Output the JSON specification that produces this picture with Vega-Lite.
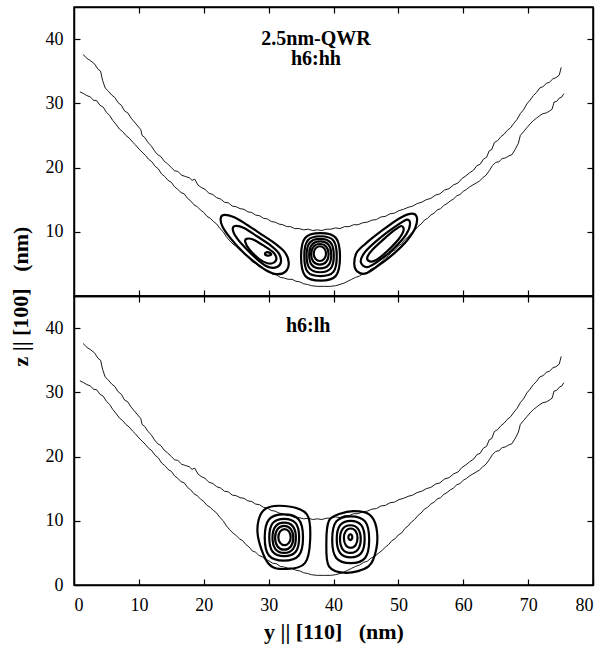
{
 "$schema": "https://vega.github.io/schema/vega-lite/v6.json",
 "padding": {"left": 8, "top": 5, "right": 8, "bottom": 5},
 "spacing": 0,
 "bounds": "flush",
 "background": "white",
 "config": {
  "view": {"stroke": "black", "strokeWidth": 1.5},
  "font": "Liberation Serif",
  "axis": {"grid": false, "domainColor": "black", "domainWidth": 1.5, "tickColor": "black", "tickSize": -6, "tickWidth": 1.2, "labelFont": "Liberation Serif", "labelFontSize": 18, "labelColor": "black", "labelPadding": 17, "titleFont": "Liberation Serif", "titleFontSize": 22, "titleFontWeight": "bold", "titleColor": "black", "titlePadding": 13}
 },
 "datasets": {
  "bnd": [
   {"curve":"u","x":1.4,"z":37.6},{"curve":"u","x":2.0,"z":37.0},{"curve":"u","x":2.6,"z":36.6},{"curve":"u","x":3.2,"z":36.1},{"curve":"u","x":3.7,"z":35.3},{"curve":"u","x":4.1,"z":35.0},{"curve":"u","x":4.4,"z":33.6},{"curve":"u","x":4.8,"z":32.4},{"curve":"u","x":5.3,"z":31.9},{"curve":"u","x":5.8,"z":31.3},{"curve":"u","x":6.3,"z":30.9},{"curve":"u","x":6.8,"z":30.1},{"curve":"u","x":7.3,"z":29.7},{"curve":"u","x":7.8,"z":28.8},{"curve":"u","x":8.3,"z":28.5},{"curve":"u","x":8.8,"z":27.7},{"curve":"u","x":9.3,"z":27.1},{"curve":"u","x":9.8,"z":26.5},{"curve":"u","x":10.3,"z":25.9},{"curve":"u","x":10.5,"z":25.0},{"curve":"u","x":10.9,"z":24.7},{"curve":"u","x":11.4,"z":23.9},{"curve":"u","x":11.9,"z":23.4},{"curve":"u","x":12.4,"z":22.6},{"curve":"u","x":12.9,"z":22.0},{"curve":"u","x":13.4,"z":21.7},{"curve":"u","x":13.9,"z":21.0},{"curve":"u","x":14.4,"z":20.6},{"curve":"u","x":15.0,"z":20.0},{"curve":"u","x":15.5,"z":19.5},{"curve":"u","x":16.0,"z":19.4},{"curve":"u","x":16.6,"z":18.8},{"curve":"u","x":17.2,"z":18.6},{"curve":"u","x":17.8,"z":18.4},{"curve":"u","x":18.2,"z":18.0},{"curve":"u","x":18.6,"z":18.2},{"curve":"u","x":19.1,"z":17.3},{"curve":"u","x":19.6,"z":16.9},{"curve":"u","x":20.2,"z":16.6},{"curve":"u","x":20.8,"z":16.0},{"curve":"u","x":21.4,"z":15.8},{"curve":"u","x":22.0,"z":15.3},{"curve":"u","x":22.6,"z":15.1},{"curve":"u","x":23.2,"z":14.6},{"curve":"u","x":23.8,"z":14.5},{"curve":"u","x":24.4,"z":14.0},{"curve":"u","x":25.0,"z":13.9},{"curve":"u","x":25.6,"z":13.6},{"curve":"u","x":26.2,"z":13.5},{"curve":"u","x":26.8,"z":13.1},{"curve":"u","x":27.4,"z":13.0},{"curve":"u","x":28.0,"z":12.6},{"curve":"u","x":28.6,"z":12.5},{"curve":"u","x":29.2,"z":12.1},{"curve":"u","x":29.8,"z":12.0},{"curve":"u","x":30.4,"z":11.6},{"curve":"u","x":31.0,"z":11.5},{"curve":"u","x":31.6,"z":11.2},{"curve":"u","x":32.2,"z":11.1},{"curve":"u","x":32.8,"z":10.8},{"curve":"u","x":33.4,"z":10.8},{"curve":"u","x":34.0,"z":10.5},{"curve":"u","x":34.7,"z":10.5},{"curve":"u","x":35.4,"z":10.3},{"curve":"u","x":36.1,"z":10.4},{"curve":"u","x":36.8,"z":10.2},{"curve":"u","x":37.5,"z":10.3},{"curve":"u","x":38.2,"z":10.2},{"curve":"u","x":38.9,"z":10.4},{"curve":"u","x":39.6,"z":10.4},{"curve":"u","x":40.3,"z":10.6},{"curve":"u","x":41.0,"z":10.5},{"curve":"u","x":41.7,"z":10.8},{"curve":"u","x":42.4,"z":10.8},{"curve":"u","x":43.1,"z":11.1},{"curve":"u","x":43.8,"z":11.1},{"curve":"u","x":44.5,"z":11.4},{"curve":"u","x":45.2,"z":11.5},{"curve":"u","x":45.9,"z":11.8},{"curve":"u","x":46.6,"z":11.9},{"curve":"u","x":47.3,"z":12.3},{"curve":"u","x":48.0,"z":12.4},{"curve":"u","x":48.7,"z":12.8},{"curve":"u","x":49.4,"z":12.9},{"curve":"u","x":50.1,"z":13.3},{"curve":"u","x":50.8,"z":13.5},{"curve":"u","x":51.5,"z":13.8},{"curve":"u","x":52.2,"z":14.0},{"curve":"u","x":52.9,"z":14.4},{"curve":"u","x":53.6,"z":14.6},{"curve":"u","x":54.3,"z":15.0},{"curve":"u","x":55.0,"z":15.2},{"curve":"u","x":55.7,"z":15.7},{"curve":"u","x":56.4,"z":15.9},{"curve":"u","x":57.1,"z":16.5},{"curve":"u","x":57.8,"z":16.7},{"curve":"u","x":58.5,"z":17.3},{"curve":"u","x":59.2,"z":17.6},{"curve":"u","x":59.8,"z":18.3},{"curve":"u","x":60.4,"z":18.7},{"curve":"u","x":61.0,"z":19.2},{"curve":"u","x":61.6,"z":19.6},{"curve":"u","x":62.1,"z":20.3},{"curve":"u","x":62.6,"z":20.5},{"curve":"u","x":63.1,"z":21.3},{"curve":"u","x":63.6,"z":21.6},{"curve":"u","x":64.0,"z":22.6},{"curve":"u","x":64.4,"z":22.8},{"curve":"u","x":64.8,"z":23.9},{"curve":"u","x":65.3,"z":24.2},{"curve":"u","x":65.8,"z":24.8},{"curve":"u","x":66.3,"z":25.2},{"curve":"u","x":66.8,"z":25.8},{"curve":"u","x":67.3,"z":26.2},{"curve":"u","x":67.8,"z":26.9},{"curve":"u","x":68.3,"z":27.5},{"curve":"u","x":68.8,"z":28.4},{"curve":"u","x":69.3,"z":29.0},{"curve":"u","x":69.8,"z":29.9},{"curve":"u","x":70.3,"z":30.5},{"curve":"u","x":70.8,"z":31.2},{"curve":"u","x":71.3,"z":31.7},{"curve":"u","x":71.8,"z":32.4},{"curve":"u","x":72.3,"z":32.6},{"curve":"u","x":72.8,"z":33.1},{"curve":"u","x":73.3,"z":33.3},{"curve":"u","x":73.8,"z":33.8},{"curve":"u","x":74.3,"z":34.0},{"curve":"u","x":74.8,"z":34.4},{"curve":"u","x":75.1,"z":35.6},
   {"curve":"l","x":0.9,"z":31.8},{"curve":"l","x":1.5,"z":31.5},{"curve":"l","x":2.0,"z":31.2},{"curve":"l","x":2.5,"z":31.0},{"curve":"l","x":3.0,"z":30.5},{"curve":"l","x":3.5,"z":30.4},{"curve":"l","x":4.0,"z":29.7},{"curve":"l","x":4.5,"z":29.4},{"curve":"l","x":5.0,"z":28.6},{"curve":"l","x":5.5,"z":28.1},{"curve":"l","x":6.0,"z":27.3},{"curve":"l","x":6.5,"z":26.7},{"curve":"l","x":7.0,"z":26.0},{"curve":"l","x":7.5,"z":25.6},{"curve":"l","x":8.0,"z":25.0},{"curve":"l","x":8.5,"z":24.6},{"curve":"l","x":9.0,"z":24.0},{"curve":"l","x":9.5,"z":23.5},{"curve":"l","x":10.0,"z":22.9},{"curve":"l","x":10.5,"z":22.4},{"curve":"l","x":11.0,"z":21.9},{"curve":"l","x":11.5,"z":21.3},{"curve":"l","x":12.0,"z":20.9},{"curve":"l","x":12.5,"z":20.2},{"curve":"l","x":13.0,"z":19.8},{"curve":"l","x":13.5,"z":19.0},{"curve":"l","x":14.0,"z":18.6},{"curve":"l","x":14.5,"z":18.0},{"curve":"l","x":15.0,"z":17.7},{"curve":"l","x":15.5,"z":17.0},{"curve":"l","x":16.0,"z":16.6},{"curve":"l","x":16.5,"z":16.1},{"curve":"l","x":17.0,"z":15.9},{"curve":"l","x":17.5,"z":15.2},{"curve":"l","x":18.0,"z":14.8},{"curve":"l","x":18.5,"z":14.2},{"curve":"l","x":19.0,"z":13.9},{"curve":"l","x":19.5,"z":13.4},{"curve":"l","x":20.0,"z":13.0},{"curve":"l","x":20.5,"z":12.4},{"curve":"l","x":21.0,"z":12.1},{"curve":"l","x":21.5,"z":11.6},{"curve":"l","x":22.0,"z":11.2},{"curve":"l","x":22.5,"z":10.5},{"curve":"l","x":23.0,"z":10.0},{"curve":"l","x":23.5,"z":9.2},{"curve":"l","x":24.0,"z":8.6},{"curve":"l","x":24.5,"z":8.1},{"curve":"l","x":25.0,"z":7.7},{"curve":"l","x":25.5,"z":7.2},{"curve":"l","x":26.0,"z":6.9},{"curve":"l","x":26.5,"z":6.3},{"curve":"l","x":27.0,"z":5.9},{"curve":"l","x":27.5,"z":5.3},{"curve":"l","x":28.0,"z":5.1},{"curve":"l","x":28.5,"z":4.6},{"curve":"l","x":29.0,"z":4.4},{"curve":"l","x":29.5,"z":4.0},{"curve":"l","x":30.0,"z":3.8},{"curve":"l","x":30.6,"z":3.4},{"curve":"l","x":31.2,"z":3.3},{"curve":"l","x":31.8,"z":2.9},{"curve":"l","x":32.4,"z":2.8},{"curve":"l","x":33.0,"z":2.6},{"curve":"l","x":33.6,"z":2.6},{"curve":"l","x":34.2,"z":2.3},{"curve":"l","x":34.8,"z":2.2},{"curve":"l","x":35.4,"z":1.9},{"curve":"l","x":36.0,"z":1.8},{"curve":"l","x":36.6,"z":1.6},{"curve":"l","x":37.5,"z":1.5},{"curve":"l","x":38.5,"z":1.5},{"curve":"l","x":39.5,"z":1.5},{"curve":"l","x":40.3,"z":1.6},{"curve":"l","x":41.0,"z":1.8},{"curve":"l","x":41.6,"z":2.0},{"curve":"l","x":42.2,"z":2.3},{"curve":"l","x":42.8,"z":2.6},{"curve":"l","x":43.4,"z":2.9},{"curve":"l","x":44.0,"z":3.1},{"curve":"l","x":44.6,"z":3.5},{"curve":"l","x":45.2,"z":3.7},{"curve":"l","x":45.8,"z":4.2},{"curve":"l","x":46.4,"z":4.5},{"curve":"l","x":47.0,"z":5.0},{"curve":"l","x":47.5,"z":5.4},{"curve":"l","x":48.0,"z":5.9},{"curve":"l","x":48.5,"z":6.3},{"curve":"l","x":49.0,"z":6.9},{"curve":"l","x":49.5,"z":7.2},{"curve":"l","x":50.0,"z":7.8},{"curve":"l","x":50.5,"z":8.1},{"curve":"l","x":51.0,"z":8.8},{"curve":"l","x":51.5,"z":9.2},{"curve":"l","x":52.0,"z":9.8},{"curve":"l","x":52.5,"z":10.2},{"curve":"l","x":53.0,"z":10.8},{"curve":"l","x":53.5,"z":11.2},{"curve":"l","x":54.0,"z":11.8},{"curve":"l","x":54.5,"z":12.1},{"curve":"l","x":55.0,"z":12.6},{"curve":"l","x":55.5,"z":12.9},{"curve":"l","x":56.0,"z":13.4},{"curve":"l","x":56.5,"z":13.6},{"curve":"l","x":57.0,"z":14.1},{"curve":"l","x":57.5,"z":14.4},{"curve":"l","x":58.0,"z":14.8},{"curve":"l","x":58.5,"z":15.1},{"curve":"l","x":59.0,"z":15.6},{"curve":"l","x":59.5,"z":15.8},{"curve":"l","x":60.0,"z":16.3},{"curve":"l","x":60.5,"z":16.6},{"curve":"l","x":61.0,"z":17.0},{"curve":"l","x":61.5,"z":17.3},{"curve":"l","x":62.0,"z":17.6},{"curve":"l","x":62.5,"z":17.9},{"curve":"l","x":63.0,"z":18.4},{"curve":"l","x":63.5,"z":18.8},{"curve":"l","x":64.0,"z":19.5},{"curve":"l","x":64.5,"z":20.3},{"curve":"l","x":65.0,"z":20.8},{"curve":"l","x":65.5,"z":20.9},{"curve":"l","x":66.0,"z":21.4},{"curve":"l","x":66.5,"z":21.5},{"curve":"l","x":67.0,"z":21.8},{"curve":"l","x":67.5,"z":22.0},{"curve":"l","x":68.0,"z":22.8},{"curve":"l","x":68.5,"z":23.8},{"curve":"l","x":68.8,"z":25.0},{"curve":"l","x":69.3,"z":25.6},{"curve":"l","x":69.8,"z":26.2},{"curve":"l","x":70.3,"z":26.8},{"curve":"l","x":70.8,"z":27.3},{"curve":"l","x":71.3,"z":27.7},{"curve":"l","x":71.8,"z":28.1},{"curve":"l","x":72.3,"z":28.4},{"curve":"l","x":72.8,"z":28.5},{"curve":"l","x":73.3,"z":28.8},{"curve":"l","x":73.7,"z":29.1},{"curve":"l","x":74.0,"z":30.2},{"curve":"l","x":74.4,"z":30.3},{"curve":"l","x":74.8,"z":30.8},{"curve":"l","x":75.2,"z":31.0},{"curve":"l","x":75.5,"z":31.5}
  ],
  "hh": [
   {"c":"a1","o":1,"x":23.0,"z":12.6},{"c":"a1","o":2,"x":24.6,"z":12.3},{"c":"a1","o":3,"x":26.5,"z":11.2},{"c":"a1","o":4,"x":28.6,"z":9.8},{"c":"a1","o":5,"x":30.8,"z":8.3},{"c":"a1","o":6,"x":32.5,"z":6.8},{"c":"a1","o":7,"x":33.1,"z":5.2},{"c":"a1","o":8,"x":32.6,"z":3.8},{"c":"a1","o":9,"x":31.2,"z":3.4},{"c":"a1","o":10,"x":29.6,"z":4.0},{"c":"a1","o":11,"x":27.8,"z":5.3},{"c":"a1","o":12,"x":26.0,"z":6.9},{"c":"a1","o":13,"x":24.2,"z":8.9},{"c":"a1","o":14,"x":22.9,"z":10.8},{"c":"a1","o":15,"x":22.6,"z":12.0},
   {"c":"a2","o":1,"x":24.8,"z":10.9},{"c":"a2","o":2,"x":26.2,"z":10.6},{"c":"a2","o":3,"x":28.2,"z":9.3},{"c":"a2","o":4,"x":30.3,"z":7.9},{"c":"a2","o":5,"x":31.6,"z":6.6},{"c":"a2","o":6,"x":31.9,"z":5.3},{"c":"a2","o":7,"x":31.3,"z":4.5},{"c":"a2","o":8,"x":30.0,"z":4.5},{"c":"a2","o":9,"x":28.6,"z":5.4},{"c":"a2","o":10,"x":26.8,"z":7.1},{"c":"a2","o":11,"x":25.2,"z":8.9},{"c":"a2","o":12,"x":24.5,"z":10.2},
   {"c":"a3","o":1,"x":26.6,"z":8.9},{"c":"a3","o":2,"x":27.6,"z":8.8},{"c":"a3","o":3,"x":29.3,"z":7.8},{"c":"a3","o":4,"x":30.7,"z":6.8},{"c":"a3","o":5,"x":31.2,"z":5.9},{"c":"a3","o":6,"x":30.8,"z":5.2},{"c":"a3","o":7,"x":29.8,"z":5.1},{"c":"a3","o":8,"x":28.5,"z":5.8},{"c":"a3","o":9,"x":27.0,"z":7.3},{"c":"a3","o":10,"x":26.4,"z":8.4},
   {"c":"a4","o":1,"x":29.5,"z":6.7},{"c":"a4","o":2,"x":30.0,"z":6.8},{"c":"a4","o":3,"x":30.4,"z":6.5},{"c":"a4","o":4,"x":30.0,"z":6.3},{"c":"a4","o":5,"x":29.5,"z":6.4},
   {"c":"c1","o":1,"x":41.0,"z":6.1},{"c":"c1","o":2,"x":40.38,"z":9.04},{"c":"c1","o":3,"x":38.0,"z":9.8},{"c":"c1","o":4,"x":35.62,"z":9.04},{"c":"c1","o":5,"x":35.0,"z":6.1},{"c":"c1","o":6,"x":35.62,"z":3.16},{"c":"c1","o":7,"x":38.0,"z":2.4},{"c":"c1","o":8,"x":40.38,"z":3.16},
   {"c":"c2","o":1,"x":40.5,"z":6.2},{"c":"c2","o":2,"x":39.98,"z":8.65},{"c":"c2","o":3,"x":38.0,"z":9.3},{"c":"c2","o":4,"x":36.02,"z":8.65},{"c":"c2","o":5,"x":35.5,"z":6.2},{"c":"c2","o":6,"x":36.02,"z":3.75},{"c":"c2","o":7,"x":38.0,"z":3.1},{"c":"c2","o":8,"x":39.98,"z":3.75},
   {"c":"c3","o":1,"x":40.05,"z":6.3},{"c":"c3","o":2,"x":39.57,"z":8.3},{"c":"c3","o":3,"x":37.95,"z":8.9},{"c":"c3","o":4,"x":36.33,"z":8.3},{"c":"c3","o":5,"x":35.85,"z":6.3},{"c":"c3","o":6,"x":36.33,"z":4.3},{"c":"c3","o":7,"x":37.95,"z":3.7},{"c":"c3","o":8,"x":39.57,"z":4.3},
   {"c":"c4","o":1,"x":39.65,"z":6.4},{"c":"c4","o":2,"x":39.23,"z":7.98},{"c":"c4","o":3,"x":37.95,"z":8.5},{"c":"c4","o":4,"x":36.67,"z":7.98},{"c":"c4","o":5,"x":36.25,"z":6.4},{"c":"c4","o":6,"x":36.67,"z":4.82},{"c":"c4","o":7,"x":37.95,"z":4.3},{"c":"c4","o":8,"x":39.23,"z":4.82},
   {"c":"c5","o":1,"x":39.25,"z":6.5},{"c":"c5","o":2,"x":38.89,"z":7.67},{"c":"c5","o":3,"x":37.9,"z":8.1},{"c":"c5","o":4,"x":36.91,"z":7.67},{"c":"c5","o":5,"x":36.55,"z":6.5},{"c":"c5","o":6,"x":36.91,"z":5.33},{"c":"c5","o":7,"x":37.9,"z":4.9},{"c":"c5","o":8,"x":38.89,"z":5.33},
   {"c":"c6","o":1,"x":38.85,"z":6.6},{"c":"c6","o":2,"x":38.57,"z":7.42},{"c":"c6","o":3,"x":37.9,"z":7.75},{"c":"c6","o":4,"x":37.23,"z":7.42},{"c":"c6","o":5,"x":36.95,"z":6.6},{"c":"c6","o":6,"x":37.23,"z":5.78},{"c":"c6","o":7,"x":37.9,"z":5.45},{"c":"c6","o":8,"x":38.57,"z":5.78},
   {"c":"b1","o":1,"x":43.2,"z":5.0},{"c":"b1","o":2,"x":43.6,"z":6.8},{"c":"b1","o":3,"x":45.0,"z":8.2},{"c":"b1","o":4,"x":47.5,"z":10.2},{"c":"b1","o":5,"x":50.0,"z":12.0},{"c":"b1","o":6,"x":51.8,"z":12.8},{"c":"b1","o":7,"x":52.8,"z":12.4},{"c":"b1","o":8,"x":52.6,"z":10.6},{"c":"b1","o":9,"x":51.3,"z":8.6},{"c":"b1","o":10,"x":49.3,"z":6.6},{"c":"b1","o":11,"x":47.0,"z":4.8},{"c":"b1","o":12,"x":45.0,"z":3.5},{"c":"b1","o":13,"x":43.7,"z":3.8},
   {"c":"b2","o":1,"x":44.2,"z":5.3},{"c":"b2","o":2,"x":44.9,"z":6.9},{"c":"b2","o":3,"x":47.0,"z":8.9},{"c":"b2","o":4,"x":49.5,"z":10.8},{"c":"b2","o":5,"x":51.3,"z":11.9},{"c":"b2","o":6,"x":51.8,"z":11.2},{"c":"b2","o":7,"x":51.2,"z":9.6},{"c":"b2","o":8,"x":49.3,"z":7.4},{"c":"b2","o":9,"x":47.0,"z":5.5},{"c":"b2","o":10,"x":45.2,"z":4.5},
   {"c":"b3","o":1,"x":45.2,"z":6.0},{"c":"b3","o":2,"x":46.0,"z":7.2},{"c":"b3","o":3,"x":47.8,"z":8.9},{"c":"b3","o":4,"x":49.6,"z":10.4},{"c":"b3","o":5,"x":50.5,"z":10.9},{"c":"b3","o":6,"x":50.8,"z":10.2},{"c":"b3","o":7,"x":50.0,"z":8.8},{"c":"b3","o":8,"x":48.3,"z":7.0},{"c":"b3","o":9,"x":46.6,"z":5.6},{"c":"b3","o":10,"x":45.6,"z":5.4}
  ],
  "lh": [
   {"c":"L1","o":1,"x":36.4,"z":7.0},{"c":"L1","o":2,"x":35.9,"z":11.0},{"c":"L1","o":3,"x":32.5,"z":12.3},{"c":"L1","o":4,"x":29.2,"z":11.6},{"c":"L1","o":5,"x":28.3,"z":8.0},{"c":"L1","o":6,"x":30.0,"z":3.3},{"c":"L1","o":7,"x":32.8,"z":2.5},{"c":"L1","o":8,"x":35.6,"z":3.4},
   {"c":"L2","o":1,"x":35.3,"z":7.4},{"c":"L2","o":2,"x":34.65,"z":10.21},{"c":"L2","o":3,"x":32.35,"z":11.0},{"c":"L2","o":4,"x":30.05,"z":10.21},{"c":"L2","o":5,"x":29.4,"z":7.4},{"c":"L2","o":6,"x":30.05,"z":4.59},{"c":"L2","o":7,"x":32.35,"z":3.8},{"c":"L2","o":8,"x":34.65,"z":4.59},
   {"c":"L3","o":1,"x":34.7,"z":7.4},{"c":"L3","o":2,"x":34.17,"z":9.63},{"c":"L3","o":3,"x":32.4,"z":10.3},{"c":"L3","o":4,"x":30.63,"z":9.63},{"c":"L3","o":5,"x":30.1,"z":7.4},{"c":"L3","o":6,"x":30.63,"z":5.17},{"c":"L3","o":7,"x":32.4,"z":4.5},{"c":"L3","o":8,"x":34.17,"z":5.17},
   {"c":"L4","o":1,"x":34.2,"z":7.35},{"c":"L4","o":2,"x":33.75,"z":9.11},{"c":"L4","o":3,"x":32.4,"z":9.7},{"c":"L4","o":4,"x":31.05,"z":9.11},{"c":"L4","o":5,"x":30.6,"z":7.35},{"c":"L4","o":6,"x":31.05,"z":5.59},{"c":"L4","o":7,"x":32.4,"z":5.0},{"c":"L4","o":8,"x":33.75,"z":5.59},
   {"c":"L5","o":1,"x":33.8,"z":7.35},{"c":"L5","o":2,"x":33.42,"z":8.7},{"c":"L5","o":3,"x":32.4,"z":9.2},{"c":"L5","o":4,"x":31.38,"z":8.7},{"c":"L5","o":5,"x":31.0,"z":7.35},{"c":"L5","o":6,"x":31.38,"z":6.0},{"c":"L5","o":7,"x":32.4,"z":5.5},{"c":"L5","o":8,"x":33.42,"z":6.0},
   {"c":"L6","o":1,"x":33.4,"z":7.45},{"c":"L6","o":2,"x":33.12,"z":8.34},{"c":"L6","o":3,"x":32.45,"z":8.7},{"c":"L6","o":4,"x":31.78,"z":8.34},{"c":"L6","o":5,"x":31.5,"z":7.45},{"c":"L6","o":6,"x":31.78,"z":6.56},{"c":"L6","o":7,"x":32.45,"z":6.2},{"c":"L6","o":8,"x":33.12,"z":6.56},
   {"c":"Q1","o":1,"x":38.9,"z":6.7},{"c":"Q1","o":2,"x":39.3,"z":10.0},{"c":"Q1","o":3,"x":41.0,"z":11.1},{"c":"Q1","o":4,"x":43.2,"z":11.5},{"c":"Q1","o":5,"x":45.5,"z":11.0},{"c":"Q1","o":6,"x":46.6,"z":9.0},{"c":"Q1","o":7,"x":46.6,"z":5.6},{"c":"Q1","o":8,"x":45.4,"z":2.9},{"c":"Q1","o":9,"x":42.0,"z":1.9},{"c":"Q1","o":10,"x":39.3,"z":2.9},
   {"c":"Q2","o":1,"x":45.5,"z":7.05},{"c":"Q2","o":2,"x":44.87,"z":9.9},{"c":"Q2","o":3,"x":42.65,"z":10.7},{"c":"Q2","o":4,"x":40.43,"z":9.9},{"c":"Q2","o":5,"x":39.8,"z":7.05},{"c":"Q2","o":6,"x":40.43,"z":4.2},{"c":"Q2","o":7,"x":42.65,"z":3.4},{"c":"Q2","o":8,"x":44.87,"z":4.2},
   {"c":"Q3","o":1,"x":44.8,"z":7.15},{"c":"Q3","o":2,"x":44.28,"z":9.32},{"c":"Q3","o":3,"x":42.65,"z":10.0},{"c":"Q3","o":4,"x":41.02,"z":9.32},{"c":"Q3","o":5,"x":40.5,"z":7.15},{"c":"Q3","o":6,"x":41.02,"z":4.98},{"c":"Q3","o":7,"x":42.65,"z":4.3},{"c":"Q3","o":8,"x":44.28,"z":4.98},
   {"c":"Q4","o":1,"x":44.2,"z":7.15},{"c":"Q4","o":2,"x":43.78,"z":8.74},{"c":"Q4","o":3,"x":42.6,"z":9.3},{"c":"Q4","o":4,"x":41.42,"z":8.74},{"c":"Q4","o":5,"x":41.0,"z":7.15},{"c":"Q4","o":6,"x":41.42,"z":5.56},{"c":"Q4","o":7,"x":42.6,"z":5.0},{"c":"Q4","o":8,"x":43.78,"z":5.56},
   {"c":"Q5","o":1,"x":43.7,"z":7.3},{"c":"Q5","o":2,"x":43.41,"z":8.38},{"c":"Q5","o":3,"x":42.65,"z":8.8},{"c":"Q5","o":4,"x":41.89,"z":8.38},{"c":"Q5","o":5,"x":41.6,"z":7.3},{"c":"Q5","o":6,"x":41.89,"z":6.22},{"c":"Q5","o":7,"x":42.65,"z":5.8},{"c":"Q5","o":8,"x":43.41,"z":6.22},
   {"c":"Q6","o":1,"x":42.9,"z":7.45},{"c":"Q6","o":2,"x":42.81,"z":7.77},{"c":"Q6","o":3,"x":42.6,"z":7.9},{"c":"Q6","o":4,"x":42.39,"z":7.77},{"c":"Q6","o":5,"x":42.3,"z":7.45},{"c":"Q6","o":6,"x":42.39,"z":7.13},{"c":"Q6","o":7,"x":42.6,"z":7.0},{"c":"Q6","o":8,"x":42.81,"z":7.13}
  ]
 },
 "vconcat": [
  {
   "width": 519, "height": 289,
   "layer": [
    {
     "data": {"name": "bnd"},
     "mark": {"type": "line", "stroke": "black", "strokeWidth": 0.9},
     "encoding": {
      "x": {"field": "x", "type": "quantitative", "scale": {"domain": [0, 80], "nice": false}, "axis": {"orient": "bottom", "labels": false, "title": null, "values": [10, 20, 30, 40, 50, 60, 70]}},
      "y": {"field": "z", "type": "quantitative", "scale": {"domain": [0, 45], "nice": false}, "axis": {"orient": "left", "values": [10, 20, 30, 40], "title": "z || [100]\u00a0\u00a0\u00a0(nm)", "titleY": 289}},
      "detail": {"field": "curve"}
     }
    },
    {
     "data": {"name": "hh"},
     "mark": {"type": "line", "interpolate": "cardinal-closed", "stroke": "black", "strokeWidth": 2.2},
     "encoding": {
      "x": {"field": "x", "type": "quantitative", "axis": null},
      "y": {"field": "z", "type": "quantitative", "axis": null},
      "detail": {"field": "c"},
      "order": {"field": "o"}
     }
    },
    {
     "data": {"values": [{"t": "2.5nm-QWR\nh6:hh", "x": 37.3, "z": 40.0}]},
     "mark": {"type": "text", "font": "Liberation Serif", "fontSize": 20, "fontWeight": "bold", "color": "black", "lineBreak": "\n", "lineHeight": 20},
     "encoding": {
      "x": {"field": "x", "type": "quantitative", "axis": {"orient": "top", "labels": false, "title": null, "values": [10, 20, 30, 40, 50, 60, 70]}},
      "y": {"field": "z", "type": "quantitative", "axis": {"orient": "right", "labels": false, "title": null, "values": [10, 20, 30, 40]}},
      "text": {"field": "t"}
     }
    }
   ],
   "resolve": {"axis": {"x": "independent", "y": "independent"}}
  },
  {
   "width": 519, "height": 289,
   "layer": [
    {
     "data": {"name": "bnd"},
     "mark": {"type": "line", "stroke": "black", "strokeWidth": 0.9},
     "encoding": {
      "x": {"field": "x", "type": "quantitative", "scale": {"domain": [0, 80], "nice": false}, "axis": {"orient": "bottom", "values": [0, 10, 20, 30, 40, 50, 60, 70, 80], "title": "y || [110]\u00a0\u00a0\u00a0(nm)", "titlePadding": 7}},
      "y": {"field": "z", "type": "quantitative", "scale": {"domain": [0, 45], "nice": false}, "axis": {"orient": "left", "values": [0, 10, 20, 30, 40], "title": null}},
      "detail": {"field": "curve"}
     }
    },
    {
     "data": {"name": "lh"},
     "mark": {"type": "line", "interpolate": "cardinal-closed", "stroke": "black", "strokeWidth": 2.2},
     "encoding": {
      "x": {"field": "x", "type": "quantitative", "axis": null},
      "y": {"field": "z", "type": "quantitative", "axis": null},
      "detail": {"field": "c"},
      "order": {"field": "o"}
     }
    },
    {
     "data": {"values": [{"t": "h6:lh", "x": 36.1, "z": 40.4}]},
     "mark": {"type": "text", "font": "Liberation Serif", "fontSize": 20, "fontWeight": "bold", "color": "black"},
     "encoding": {
      "x": {"field": "x", "type": "quantitative", "axis": {"orient": "top", "labels": false, "title": null, "values": [10, 20, 30, 40, 50, 60, 70]}},
      "y": {"field": "z", "type": "quantitative", "axis": {"orient": "right", "labels": false, "title": null, "values": [10, 20, 30, 40]}},
      "text": {"field": "t"}
     }
    }
   ],
   "resolve": {"axis": {"x": "independent", "y": "independent"}}
  }
 ]
}
